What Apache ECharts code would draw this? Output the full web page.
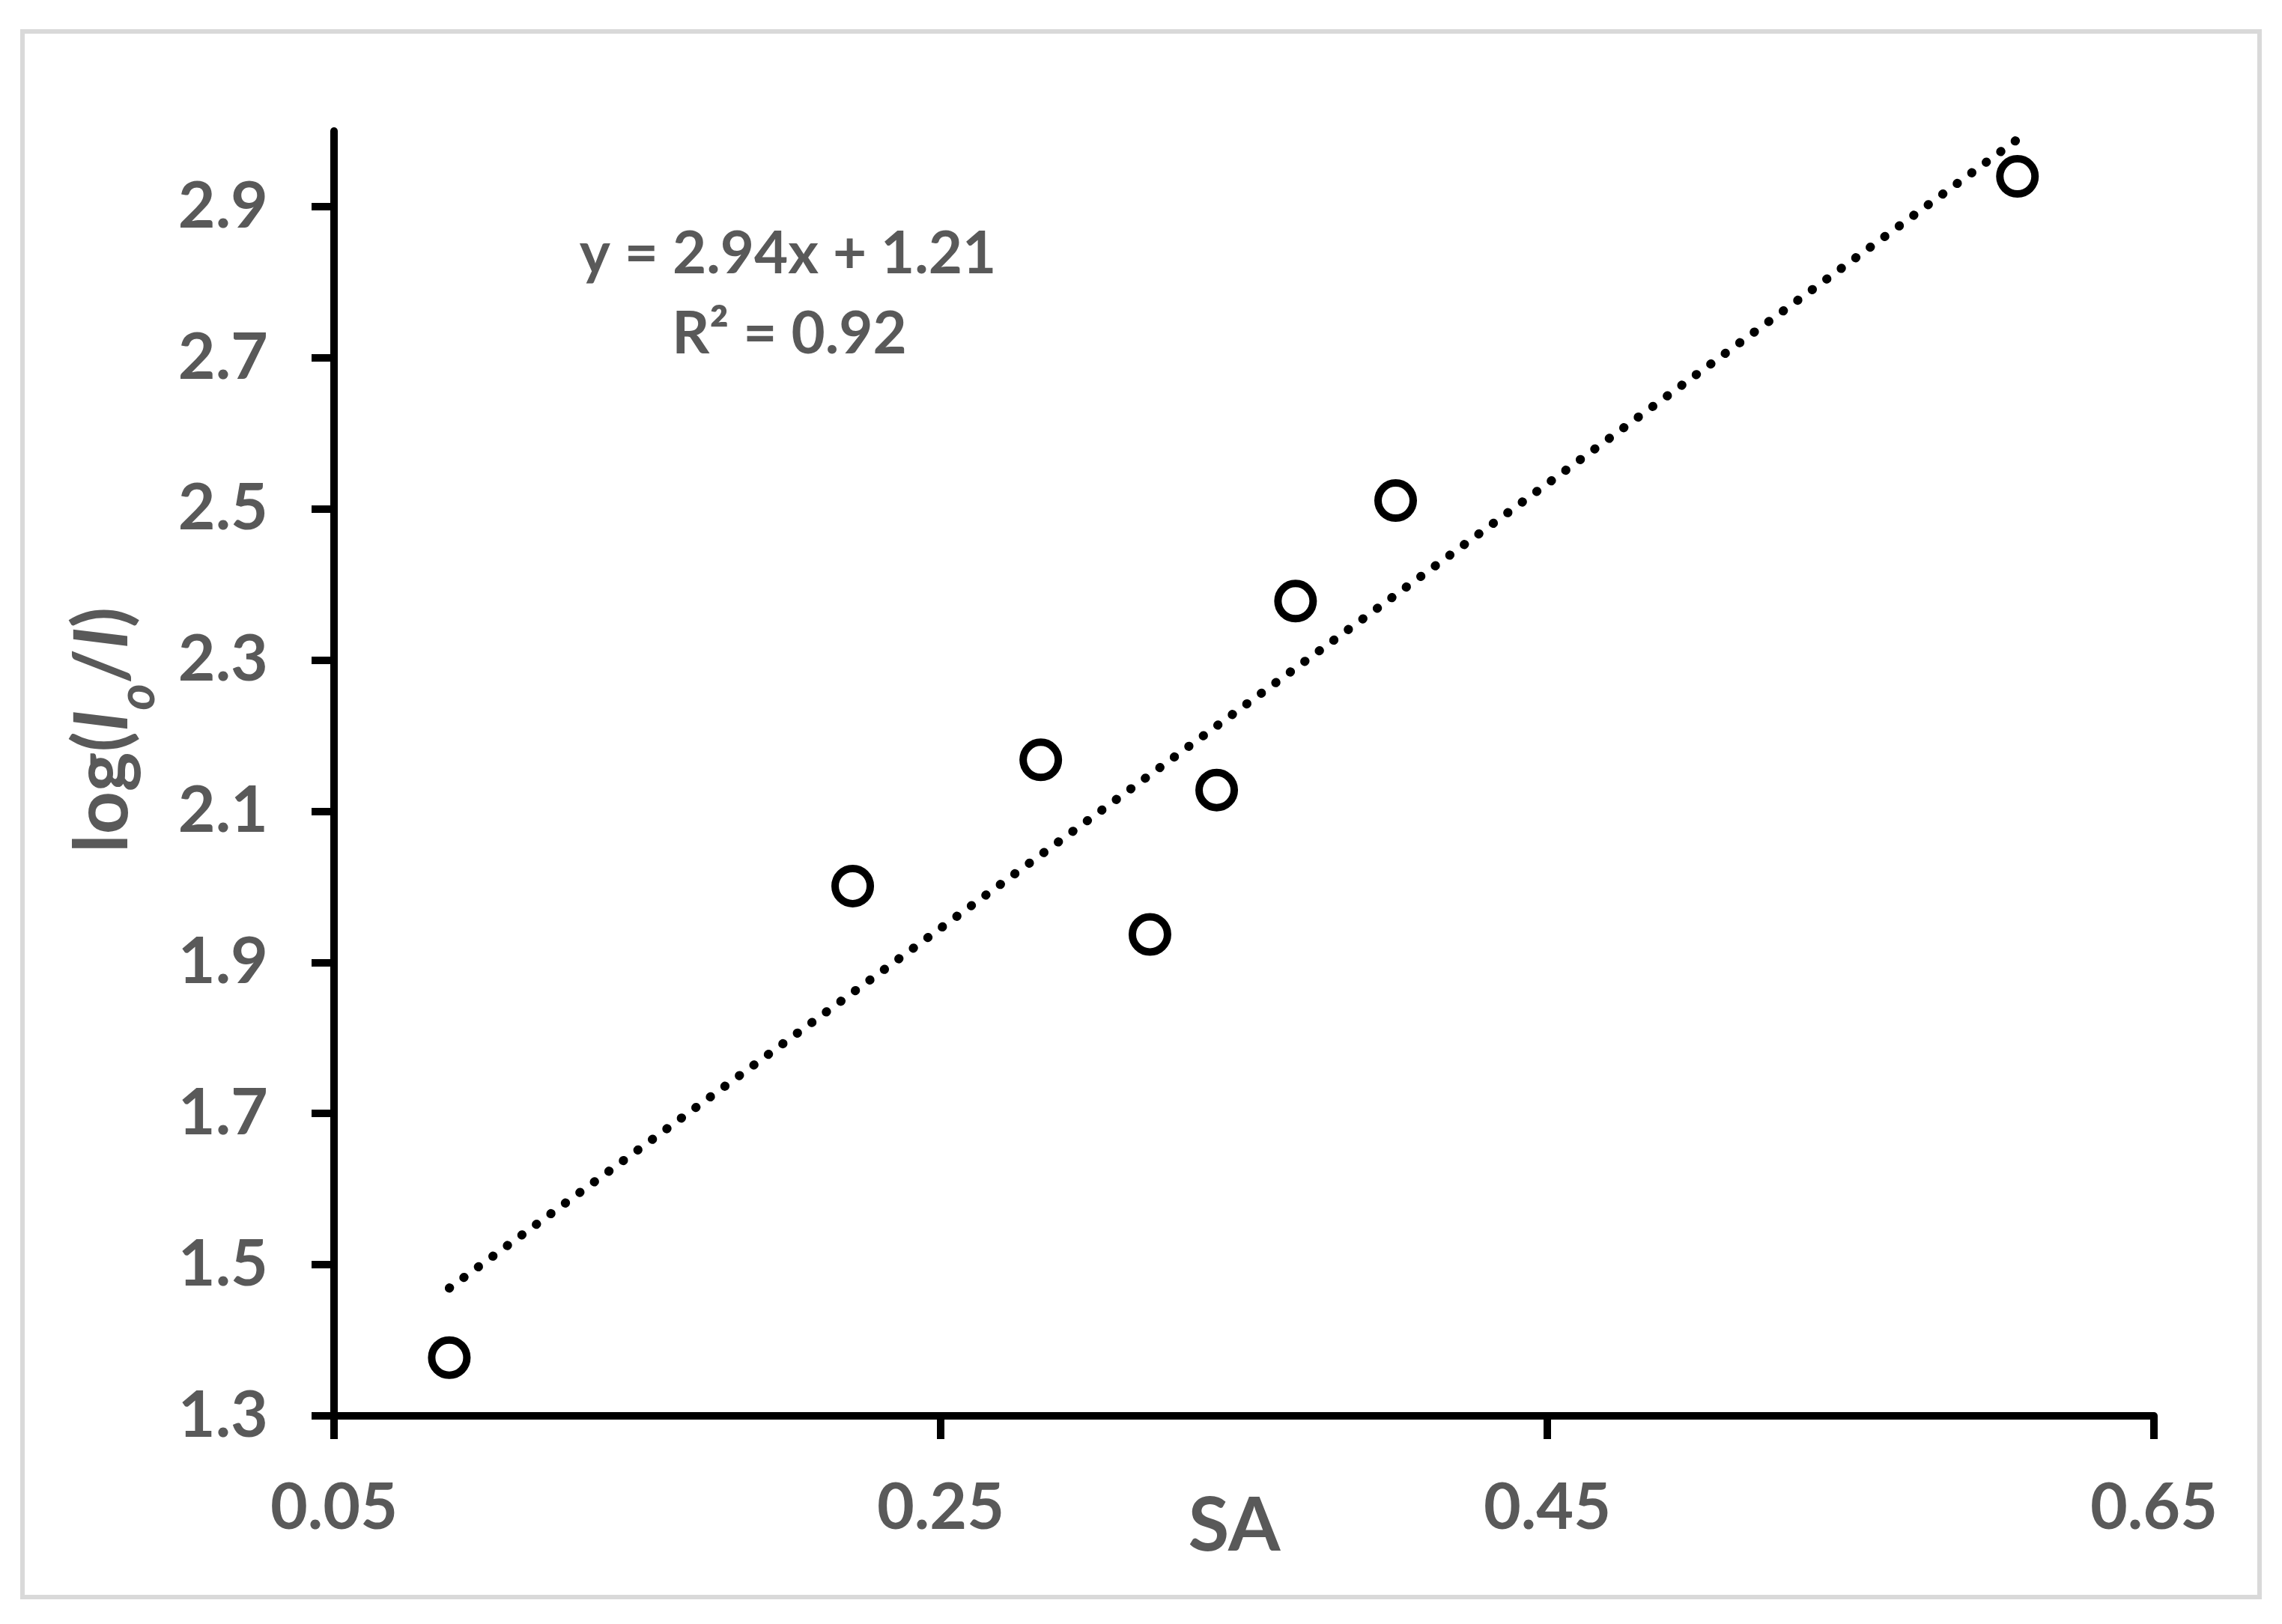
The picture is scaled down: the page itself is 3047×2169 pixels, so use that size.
<!DOCTYPE html>
<html>
<head>
<meta charset="utf-8">
<script src="https://cdn.jsdelivr.net/npm/echarts@6/dist/echarts.min.js"></script>
<style>
  html, body { margin: 0; padding: 0; background: #fff; }
  #chart { width: 3047px; height: 2169px; }
</style>
</head>
<body>
<div id="chart"></div>
<script>
// values
var xTicks = [0.05, 0.25, 0.45, 0.65];
var yTicks = [1.3, 1.5, 1.7, 1.9, 2.1, 2.3, 2.5, 2.7, 2.9];
var saValues = [0.088, 0.221, 0.283, 0.319, 0.341, 0.367, 0.400, 0.605];
var logValues = [1.377, 2.001, 2.168, 1.937, 2.128, 2.378, 2.511, 2.940];
var trendX = [0.088, 0.605];
var trendY = [1.469, 2.989];
var equationLines = ['y = 2.94x + 1.21', 'R\u00b2 = 0.92'];

function renderScatterChart(chartDivId) {
    var chart = echarts.init(document.getElementById(chartDivId));
    var grey = '#595959';
    var fontFamily = 'Lato, "Open Sans", sans-serif';

    var points = saValues.map(function (x, i) {
        return [x, logValues[i]];
    });
    var trend = trendX.map(function (x, i) {
        return [x, trendY[i]];
    });

    var options = {
        animation: false,
        backgroundColor: '#fff',
        grid: {
            left: 446,
            right: 171,
            top: 175,
            bottom: 278
        },
        xAxis: {
            type: 'value',
            min: 0.05,
            max: 0.65,
            name: 'SA',
            nameLocation: 'middle',
            nameGap: 98,
            nameMoveOverlap: false,
            nameTextStyle: {
                color: grey,
                fontFamily: fontFamily,
                fontWeight: 'bold',
                fontSize: 100,
                padding: [0, 26, 0, 0]
            },
            splitLine: { show: false },
            axisLine: { lineStyle: { color: '#000', width: 10 } },
            axisTick: {
                customValues: xTicks,
                length: 31,
                lineStyle: { color: '#000', width: 10 }
            },
            axisLabel: {
                customValues: xTicks,
                margin: 80,
                color: grey,
                fontFamily: fontFamily,
                fontWeight: 'bold',
                fontSize: 86,
                formatter: function (v) { return v.toFixed(2); }
            }
        },
        yAxis: {
            type: 'value',
            min: 1.3,
            max: 3.0,
            name: '{n|log(}{i|I}{s|o}{n|/}{i|I}{n|)}',
            nameLocation: 'middle',
            nameRotate: 90,
            nameGap: 238,
            nameMoveOverlap: false,
            nameTextStyle: {
                padding: [0, 0, 0, 116],
                rich: {
                    n: { color: grey, fontFamily: fontFamily, fontWeight: 'bold', fontSize: 100, verticalAlign: 'top', lineHeight: 120 },
                    i: { color: grey, fontFamily: fontFamily, fontWeight: 'bold', fontStyle: 'italic', fontSize: 100, verticalAlign: 'top', lineHeight: 120 },
                    s: { color: grey, fontFamily: fontFamily, fontWeight: 'bold', fontStyle: 'italic', fontSize: 68, verticalAlign: 'top', lineHeight: 68, padding: [62, 0, 0, 0] }
                }
            },
            splitLine: { show: false },
            axisLine: { lineStyle: { color: '#000', width: 10 } },
            axisTick: {
                customValues: yTicks,
                length: 30,
                lineStyle: { color: '#000', width: 10 }
            },
            axisLabel: {
                customValues: yTicks,
                margin: 88,
                color: grey,
                fontFamily: fontFamily,
                fontWeight: 'bold',
                fontSize: 86,
                formatter: function (v) { return v.toFixed(1); }
            }
        },
        graphic: [
            {
                type: 'rect',
                shape: { x: 30, y: 42, width: 2987, height: 2091 },
                style: { fill: null, stroke: '#d9d9d9', lineWidth: 6 },
                silent: true
            },
            {
                type: 'text',
                x: 1052,
                y: 340,
                style: { text: equationLines[0], fill: grey, font: 'bold 78px ' + fontFamily, align: 'center', verticalAlign: 'middle' }
            },
            {
                type: 'text',
                x: 1054,
                y: 447,
                style: { text: equationLines[1], fill: grey, font: 'bold 78px ' + fontFamily, align: 'center', verticalAlign: 'middle' }
            }
        ],
        series: [
            {
                type: 'line',
                data: trend,
                showSymbol: false,
                symbol: 'none',
                z: 2,
                lineStyle: { color: '#000', width: 12, type: [0.5, 23.5], cap: 'round' }
            },
            {
                type: 'scatter',
                data: points,
                symbol: 'circle',
                symbolSize: 47,
                z: 3,
                itemStyle: { color: '#fff', borderColor: '#000', borderWidth: 10, opacity: 1 }
            }
        ]
    };
    chart.setOption(options);
    chart.resize();
    window.onresize = function () {
        chart.resize();
    };
}

renderScatterChart('chart');
</script>
</body>
</html>
